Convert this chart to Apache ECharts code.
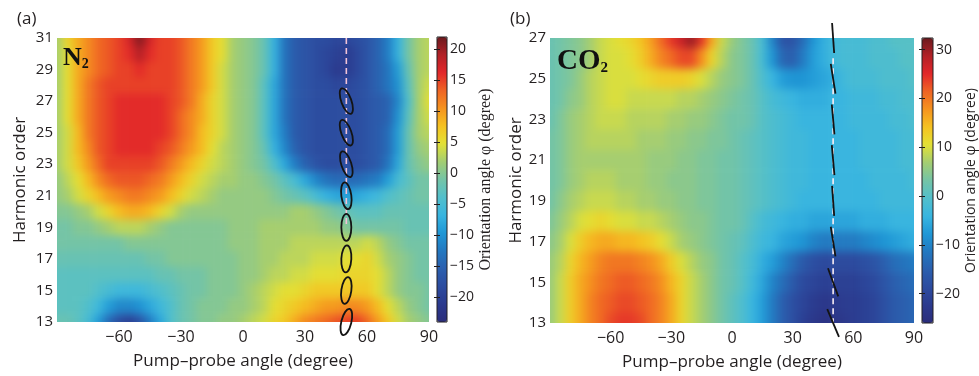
<!DOCTYPE html>
<html>
<head>
<meta charset="utf-8">
<script src="https://cdn.jsdelivr.net/npm/echarts@6/dist/echarts.min.js"></script>
<style>
  html, body { margin: 0; padding: 0; background: #ffffff; }
  #stage { position: relative; width: 979px; height: 376px; }
  .clip { position: absolute; overflow: hidden; }
  .map { position: absolute; left: -24px; top: -24px; filter: blur(4px); }
  #chart { position: absolute; left: 0; top: 0; width: 979px; height: 376px; }
</style>
</head>
<body>
<div id="stage">
  <div class="clip" style="left:57px; top:38px; width:372px; height:284px;">
    <div class="map" id="mapN2" style="width:420px; height:332px;"></div>
  </div>
  <div class="clip" style="left:550px; top:38px; width:364px; height:285px;">
    <div class="map" id="mapCO2" style="width:412px; height:333px;"></div>
  </div>
  <div id="chart"></div>
</div>
<script>
// Pump–probe angle samples (degrees), shared by both maps
const pumpProbeAngles = [-90, -85, -80, -75, -70, -65, -60, -55, -50, -45, -40, -35, -30, -25, -20, -15, -10, -5,
  0, 5, 10, 15, 20, 25, 30, 35, 40, 45, 50, 55, 60, 65, 70, 75, 80, 85, 90];

// N2: harmonic orders (top row first) and orientation angle φ in degrees, one row per order
const harmonicsN2 = [31, 30, 29, 28, 27, 26, 25, 24, 23, 22, 21, 20, 19, 18, 17, 16, 15, 14, 13];
const phiN2 = [
  [2, 6, 9, 11, 13, 14, 15, 17, 21, 17, 15, 15, 14, 12, 10, 7, 5, 2, 1, 0, -2, -7, -13, -16, -17, -18, -18, -19, -19, -18, -17, -15, -12, -7, -1, 2, 3],
  [2, 5, 9, 11, 13, 14, 15, 16, 19, 16, 15, 15, 14, 12, 10, 7, 5, 2, 1, 0, -2, -7, -13, -16, -17, -18, -19, -20, -21, -19, -17, -15, -12, -7, -1, 2, 3],
  [2, 5, 9, 11, 13, 14, 15, 15, 16, 15, 15, 15, 14, 12, 10, 7, 4, 2, 1, 0, -2, -7, -13, -16, -17, -18, -19, -21, -21, -19, -17, -15, -13, -9, -2, 2, 3],
  [2, 5, 9, 12, 14, 15, 15, 15, 15, 15, 15, 15, 14, 12, 10, 7, 4, 2, 1, 0, -3, -8, -13, -16, -17, -18, -18, -19, -19, -18, -17, -15, -13, -10, -3, 2, 4],
  [2, 5, 9, 12, 14, 15, 16, 16, 16, 16, 16, 15, 14, 12, 9, 6, 4, 2, 1, 0, -3, -8, -13, -16, -17, -18, -18, -18, -18, -18, -17, -16, -15, -11, -4, 2, 5],
  [2, 5, 9, 12, 14, 15, 16, 16, 16, 16, 16, 15, 13, 11, 9, 6, 4, 2, 1, 0, -3, -8, -13, -16, -17, -18, -18, -18, -18, -18, -17, -16, -15, -10, -3, 2, 4],
  [2, 4, 8, 12, 14, 15, 16, 16, 16, 16, 16, 15, 13, 11, 8, 6, 4, 2, 1, 0, -3, -8, -12, -16, -17, -18, -18, -18, -18, -18, -17, -16, -14, -9, -2, 2, 3],
  [2, 4, 8, 11, 14, 15, 16, 16, 16, 16, 15, 14, 12, 10, 8, 5, 3, 2, 1, 0, -2, -7, -11, -15, -17, -18, -18, -18, -18, -18, -17, -16, -14, -9, -2, 1, 2],
  [2, 4, 7, 10, 13, 15, 15, 15, 15, 15, 14, 12, 10, 8, 6, 4, 3, 2, 1, 0, -1, -4, -8, -12, -15, -17, -18, -18, -18, -18, -17, -16, -13, -8, -2, 0, 1],
  [1, 3, 5, 8, 11, 13, 14, 14, 14, 13, 12, 10, 8, 6, 4, 3, 2, 2, 1, 1, 0, -1, -3, -5, -8, -11, -13, -14, -14, -14, -13, -12, -9, -5, -3, -1, -1],
  [1, 2, 4, 6, 8, 10, 11, 12, 12, 11, 10, 8, 6, 4, 3, 2, 1, 1, 1, 1, 1, 0, -1, -2, -3, -5, -7, -8, -9, -8, -7, -6, -4, -3, -2, -1, -1],
  [0, 0, 1, 2, 4, 6, 8, 9, 9, 8, 6, 4, 2, 1, 1, 1, 1, 1, 1, 1, 1, 1, 1, 2, 2, 1, 0, -1, -2, -3, -3, -3, -2, -2, -2, -2, -2],
  [-1, -1, 0, 0, 1, 2, 3, 3, 3, 2, 1, 0, 0, 0, 0, 0, 0, 1, 1, 1, 2, 2, 2, 2, 2, 2, 1, 1, 0, -1, -1, -1, -1, -1, -2, -2, -2],
  [-1, -1, -1, -1, -1, -1, -1, 0, 0, 0, 0, 0, 0, 0, 0, 0, 0, 1, 1, 1, 2, 2, 2, 3, 3, 3, 3, 3, 3, 3, 4, 3, 1, 0, -1, -1, -1],
  [-2, -2, -2, -2, -2, -2, -2, -2, -2, -1, -1, 0, 0, 0, 0, 0, 0, 0, 1, 1, 2, 2, 3, 3, 3, 4, 4, 4, 5, 5, 6, 4, 2, 1, 0, -1, -1],
  [-3, -3, -3, -3, -3, -3, -3, -3, -3, -3, -2, -2, -1, -1, -1, 0, 0, 0, 1, 1, 2, 3, 3, 4, 4, 5, 5, 5, 6, 6, 6, 5, 3, 1, 0, -1, -1],
  [-3, -3, -3, -3, -4, -5, -6, -6, -6, -5, -4, -3, -2, -1, -1, 0, 0, 0, 1, 2, 3, 4, 5, 5, 6, 7, 7, 7, 7, 7, 7, 5, 3, 1, 0, 0, -1],
  [-3, -3, -3, -4, -6, -9, -11, -11, -10, -8, -6, -4, -2, -1, 0, 0, 0, 1, 1, 2, 3, 5, 6, 7, 8, 9, 10, 10, 11, 11, 10, 8, 5, 3, 1, 0, -1],
  [-2, -2, -3, -5, -9, -14, -18, -20, -17, -12, -8, -4, -2, -1, 0, 0, 1, 1, 2, 3, 4, 6, 7, 9, 11, 12, 13, 14, 15, 15, 13, 10, 7, 4, 2, 1, 0]
];

// CO2: harmonic orders (top row first) and orientation angle φ in degrees
const harmonicsCO2 = [27, 26, 25, 24, 23, 22, 21, 20, 19, 18, 17, 16, 15, 14, 13];
const phiCO2 = [
  [2, 3, 4, 5, 7, 9, 10, 11, 12, 14, 17, 21, 24, 27, 30, 24, 16, 9, 6, 4, 2, -2, -10, -17, -17, -13, -8, -5, -3, -2, -2, -2, -1, -1, 0, 0, 0],
  [2, 3, 4, 5, 7, 9, 10, 10, 11, 13, 16, 19, 21, 23, 23, 18, 12, 8, 5, 4, 2, -2, -8, -14, -15, -11, -7, -5, -3, -2, -2, -2, -1, -1, -1, 0, 0],
  [2, 3, 4, 6, 8, 9, 10, 10, 10, 11, 12, 13, 13, 13, 12, 10, 8, 6, 5, 4, 2, -1, -4, -7, -8, -8, -7, -6, -5, -3, -2, -2, -2, -1, -1, -1, 0],
  [2, 3, 5, 6, 8, 9, 10, 10, 9, 9, 9, 9, 9, 8, 8, 7, 6, 5, 4, 3, 2, 0, -2, -3, -4, -5, -5, -5, -4, -4, -3, -3, -3, -2, -2, -1, -1],
  [2, 4, 6, 7, 8, 9, 9, 9, 8, 8, 8, 8, 7, 7, 6, 6, 5, 4, 3, 3, 2, 0, -1, -2, -3, -4, -4, -4, -4, -4, -3, -3, -3, -3, -2, -2, -1],
  [3, 4, 6, 7, 8, 8, 8, 8, 8, 7, 7, 7, 6, 6, 5, 5, 4, 4, 3, 2, 1, 0, -1, -2, -3, -3, -4, -4, -4, -4, -4, -3, -3, -3, -3, -2, -2],
  [3, 4, 6, 7, 7, 7, 7, 7, 7, 7, 6, 6, 6, 5, 5, 4, 4, 3, 3, 2, 1, 0, -1, -2, -3, -3, -4, -4, -4, -4, -4, -3, -3, -3, -3, -2, -2],
  [3, 4, 6, 7, 8, 8, 8, 7, 7, 7, 6, 6, 5, 5, 5, 4, 4, 3, 3, 2, 1, 0, -1, -2, -3, -3, -4, -4, -4, -4, -4, -4, -3, -3, -3, -3, -2],
  [3, 5, 7, 8, 9, 9, 9, 8, 8, 7, 7, 6, 6, 5, 5, 4, 4, 3, 3, 2, 1, 0, -1, -2, -3, -4, -4, -4, -4, -4, -4, -4, -4, -3, -3, -3, -3],
  [4, 6, 8, 10, 11, 12, 11, 10, 10, 9, 9, 8, 7, 6, 5, 5, 4, 3, 3, 2, 0, -2, -3, -4, -5, -5, -6, -6, -6, -6, -6, -5, -5, -5, -4, -4, -4],
  [5, 7, 10, 13, 15, 16, 16, 15, 15, 14, 13, 11, 9, 7, 6, 5, 4, 3, 2, 1, -1, -3, -4, -6, -7, -8, -10, -11, -11, -11, -11, -10, -9, -8, -7, -6, -5],
  [6, 8, 12, 15, 17, 19, 20, 20, 20, 19, 18, 16, 13, 10, 8, 6, 5, 3, 2, 0, -2, -5, -7, -10, -13, -16, -18, -19, -19, -19, -19, -18, -17, -15, -13, -12, -11],
  [6, 9, 13, 16, 18, 20, 21, 22, 22, 21, 20, 18, 15, 12, 9, 7, 5, 3, 2, 0, -3, -6, -10, -13, -16, -19, -20, -21, -21, -21, -21, -20, -19, -17, -15, -14, -13],
  [6, 9, 13, 16, 19, 21, 22, 23, 23, 22, 21, 19, 16, 12, 9, 7, 5, 3, 1, -1, -4, -7, -11, -15, -18, -20, -22, -23, -23, -22, -22, -21, -20, -18, -16, -15, -14],
  [6, 9, 13, 16, 19, 21, 23, 24, 24, 23, 21, 19, 16, 12, 9, 7, 5, 3, 1, -1, -4, -7, -11, -15, -18, -21, -23, -24, -24, -23, -22, -21, -20, -18, -16, -15, -14]
];

// Axis ticks and colour-scale ranges
const angleTicks = [-60, -30, 0, 30, 60, 90];
const orderTicksN2 = [13, 15, 17, 19, 21, 23, 25, 27, 29, 31];
const orderTicksCO2 = [13, 15, 17, 19, 21, 23, 25, 27];
const phiTicksN2 = [-20, -15, -10, -5, 0, 5, 10, 15, 20];
const phiTicksCO2 = [-20, -10, 0, 10, 20, 30];
const phiRangeN2 = [-24, 22];
const phiRangeCO2 = [-26, 32.4];

// Polarization ellipses for N2 at 50°: harmonic order and tilt of the major axis (deg, + = counterclockwise)
const ellipseAngleN2 = 50;
const ellipseOrdersN2 = [27, 25, 23, 21, 19, 17, 15, 13];
const ellipseTiltN2 = [20, 20, 18, 8, 0, -3, -8, -14];
const guideAngleN2 = 50;
const guideOrdersN2 = [31, 19];

// Linear polarization bars for CO2 at 50°
const barAngleCO2 = 50;
const barOrdersCO2 = [27, 25, 23, 21, 19, 17, 15, 13];
const barTiltCO2 = [4, 9, 5, 5, 4, 9, 20, 23];
const guideAngleCO2 = 50;
const guideOrdersCO2 = [26, 13];

// ---------------------------------------------------------------------------
const ink = '#231f20';
const sans = "'Open Sans', 'Noto Sans', sans-serif";
const serif = "'Liberation Serif', 'DejaVu Serif', serif";
// jet-like colour scale, as printed
const jet = ['#2b2d7b', '#2b3a8e', '#2c4b9f', '#2b5fae', '#2378c0', '#1f97d6', '#38b5e0', '#52bfcb', '#74c4a6',
  '#a3cd72', '#e2e136', '#f5c221', '#f5931f', '#ef6424', '#e2262a', '#b22127', '#6b1a1e'];
const bleed = 24;   // the map canvases extend this far beyond the plot frame

function toCells(orders, grid) {
  const out = [];
  orders.forEach((h, i) => pumpProbeAngles.forEach((a, j) => out.push([a, h, grid[i][j]])));
  return out;
}

const angleStep = pumpProbeAngles[1] - pumpProbeAngles[0];
function cellItemFor(orders) {
  const firstA = pumpProbeAngles[0], lastA = pumpProbeAngles[pumpProbeAngles.length - 1];
  const topH = orders[0], botH = orders[orders.length - 1];
  return function (params, api) {
    const a = api.value(0), h = api.value(1);
    const p = api.coord([a, h]);
    const s = api.size([angleStep, 1]);
    let x0 = p[0] - s[0] / 2, x1 = p[0] + s[0] / 2 + 0.6;
    let y0 = p[1] - s[1] / 2, y1 = p[1] + s[1] / 2 + 0.6;
    // edge cells are stretched outward so the smoothing does not fade at the frame
    if (a === firstA) x0 -= bleed;
    if (a === lastA) x1 += bleed;
    if (h === topH) y0 -= bleed;
    if (h === botH) y1 += bleed;
    return {
      type: 'rect',
      shape: { x: x0, y: y0, width: x1 - x0, height: y1 - y0 },
      style: { fill: api.visual('color') }
    };
  };
}

function mapOption(orders, grid, range) {
  return {
    animation: false,
    grid: { left: bleed, right: bleed, top: bleed, bottom: bleed },
    xAxis: { type: 'value', min: -90, max: 90, show: false },
    yAxis: { type: 'value', min: orders[orders.length - 1], max: orders[0], show: false },
    visualMap: {
      type: 'continuous', show: false, dimension: 2, min: range[0], max: range[1], inRange: { color: jet }
    },
    series: [{
      type: 'custom', clip: false, silent: true, encode: { x: 0, y: 1 },
      renderItem: cellItemFor(orders), data: toCells(orders, grid)
    }]
  };
}

function ellipseItem(params, api) {
  const p = api.coord([api.value(0), api.value(1)]);
  return {
    type: 'group', x: p[0], y: p[1], rotation: api.value(2) * Math.PI / 180,
    children: [{
      type: 'ellipse', shape: { cx: 0, cy: 0, rx: 5, ry: 13.5 },
      style: { fill: 'none', stroke: '#141414', lineWidth: 1.8 }
    }]
  };
}

function barItem(params, api) {
  const p = api.coord([api.value(0), api.value(1)]);
  const t = api.value(2) * Math.PI / 180, half = 15;
  return {
    type: 'line',
    shape: {
      x1: p[0] - half * Math.sin(t), y1: p[1] - half * Math.cos(t),
      x2: p[0] + half * Math.sin(t), y2: p[1] + half * Math.cos(t)
    },
    style: { stroke: '#141414', lineWidth: 1.8 }
  };
}

const signed = v => (v < 0 ? '\u2212' + Math.abs(v) : String(v));

function plotXAxis(gridIndex) {
  return {
    type: 'value', gridIndex, min: -90, max: 90,
    name: 'Pump\u2013probe angle (degree)', nameLocation: 'middle', nameGap: 31,
    nameTextStyle: { fontFamily: sans, fontSize: 17, color: ink },
    axisLine: { show: false }, splitLine: { show: false },
    axisTick: { show: false },
    axisLabel: { customValues: angleTicks, formatter: signed, fontFamily: sans, fontSize: 16, color: ink, margin: 7 }
  };
}
function plotYAxis(gridIndex, lo, hi, ticks, gap) {
  return {
    type: 'value', gridIndex, min: lo, max: hi,
    name: 'Harmonic order', nameLocation: 'middle', nameGap: gap,
    nameTextStyle: { fontFamily: sans, fontSize: 17, color: ink },
    axisLine: { show: false }, splitLine: { show: false },
    axisTick: { show: false },
    axisLabel: { customValues: ticks, fontFamily: sans, fontSize: 15, color: ink, margin: 4 }
  };
}
function barYAxis(gridIndex, range, ticks, name, nameFont, nameSize) {
  return {
    type: 'value', gridIndex, min: range[0], max: range[1], position: 'right', z: 10,
    name, nameLocation: 'middle', nameGap: 30,
    nameTextStyle: { fontFamily: nameFont, fontSize: nameSize, color: ink },
    axisLine: { show: false }, splitLine: { show: false },
    axisTick: { show: true, inside: true, length: 3, customValues: ticks, lineStyle: { color: ink, width: 1 } },
    axisLabel: { customValues: ticks, formatter: signed, fontFamily: sans, fontSize: 14, color: ink, margin: 3 }
  };
}
function barYAxisLeft(gridIndex, range, ticks) {
  return {
    type: 'value', gridIndex, min: range[0], max: range[1], position: 'left', z: 10,
    axisLine: { show: false }, splitLine: { show: false },
    axisTick: { show: true, inside: true, length: 3, customValues: ticks, lineStyle: { color: ink, width: 1 } },
    axisLabel: { show: false }
  };
}
const hiddenX = gridIndex => ({ type: 'value', gridIndex, min: 0, max: 1, show: false });

const barGrid = (left, top, width, height) => ({
  left, top, width, height, show: true, z: 10,
  borderColor: ink, borderWidth: 1, backgroundColor: 'rgba(0,0,0,0)'
});

const option = {
  animation: false,
  grid: [
    { left: 57, top: 38, width: 372, height: 284 },
    barGrid(437, 37, 10, 285),
    { left: 550, top: 38, width: 364, height: 285 },
    barGrid(922, 38, 11, 285)
  ],
  xAxis: [plotXAxis(0), hiddenX(1), plotXAxis(2), hiddenX(3)],
  yAxis: [
    plotYAxis(0, 13, 31, orderTicksN2, 28),
    barYAxis(1, phiRangeN2, phiTicksN2, 'Orientation angle \u03c6 (degree)', serif, 16),
    barYAxisLeft(1, phiRangeN2, phiTicksN2),
    plotYAxis(2, 13, 27, orderTicksCO2, 24),
    barYAxis(3, phiRangeCO2, phiTicksCO2, 'Orientation angle \u03c6 (degree)', sans, 14),
    barYAxisLeft(3, phiRangeCO2, phiTicksCO2)
  ],
  // colour bars for the two maps
  visualMap: [
    {
      type: 'continuous', seriesIndex: [], dimension: 2, min: phiRangeN2[0], max: phiRangeN2[1],
      inRange: { color: jet }, calculable: false, hoverLink: false, padding: 0,
      left: 437, top: 37, itemWidth: 10, itemHeight: 285, text: null, z: 4
    },
    {
      type: 'continuous', seriesIndex: [], dimension: 2, min: phiRangeCO2[0], max: phiRangeCO2[1],
      inRange: { color: jet }, calculable: false, hoverLink: false, padding: 0,
      left: 922, top: 38, itemWidth: 11, itemHeight: 285, text: null, z: 4
    }
  ],
  series: [
    {
      type: 'line', xAxisIndex: 0, yAxisIndex: 0, silent: true, symbol: 'none', z: 5,
      data: guideOrdersN2.map(h => [guideAngleN2, h]),
      lineStyle: { color: '#f3c3d6', width: 1.6, type: [6, 4] }
    },
    {
      type: 'custom', xAxisIndex: 0, yAxisIndex: 0, clip: false, silent: true, z: 6,
      renderItem: ellipseItem, encode: { x: 0, y: 1 },
      data: ellipseOrdersN2.map((h, i) => [ellipseAngleN2, h, ellipseTiltN2[i]])
    },
    {
      type: 'line', xAxisIndex: 2, yAxisIndex: 3, silent: true, symbol: 'none', z: 5,
      data: guideOrdersCO2.map(h => [guideAngleCO2, h]),
      lineStyle: { color: '#fbeef3', width: 1.6, type: [6, 4] }
    },
    {
      type: 'custom', xAxisIndex: 2, yAxisIndex: 3, clip: false, silent: true, z: 6,
      renderItem: barItem, encode: { x: 0, y: 1 },
      data: barOrdersCO2.map((h, i) => [barAngleCO2, h, barTiltCO2[i]])
    }
  ],
  graphic: [
    { type: 'text', left: 17, top: 11, style: { text: '(a)', font: '17px ' + sans, fill: ink } },
    { type: 'text', left: 510, top: 11, style: { text: '(b)', font: '17px ' + sans, fill: ink } },
    {
      type: 'text', left: 63, top: 45, z: 20,
      style: {
        text: '{m|N}{s|2}', fill: '#111',
        rich: {
          m: { font: 'bold 26px ' + serif, fill: '#111' },
          s: { font: 'bold 14px ' + serif, fill: '#111', verticalAlign: 'bottom' }
        }
      }
    },
    {
      type: 'text', left: 557, top: 47, z: 20,
      style: {
        text: '{m|CO}{s|2}', fill: '#111',
        rich: {
          m: { font: 'bold 29px ' + serif, fill: '#111' },
          s: { font: 'bold 15px ' + serif, fill: '#111', verticalAlign: 'bottom' }
        }
      }
    }
  ]
};

echarts.init(document.getElementById('mapN2')).setOption(mapOption(harmonicsN2, phiN2, phiRangeN2));
echarts.init(document.getElementById('mapCO2')).setOption(mapOption(harmonicsCO2, phiCO2, phiRangeCO2));
echarts.init(document.getElementById('chart')).setOption(option);
</script>
</body>
</html>
